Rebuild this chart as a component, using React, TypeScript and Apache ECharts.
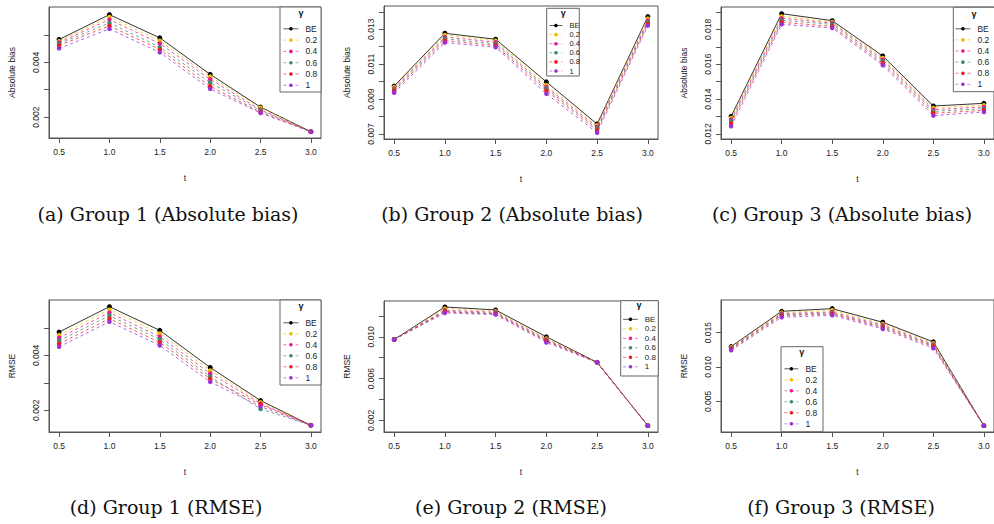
import React, { useEffect, useRef } from "react";
import * as echarts from "echarts";

const tValues = [0.5, 1.0, 1.5, 2.0, 2.5, 3.0];
const seriesNames = ["BE", "0.2", "0.4", "0.6", "0.8", "1"];
const seriesColors = ["#000000", "#EDBE00", "#E8198B", "#3B8C6E", "#F21B1B", "#9A30D6"];

// rows: BE, 0.2, 0.4, 0.6, 0.8, 1
const group1Bias = [
  [0.004836, 0.005745, 0.004897, 0.003564, 0.002364, 0.001467],
  [0.004776, 0.00566, 0.004788, 0.00348, 0.00234, 0.001467],
  [0.004727, 0.005564, 0.00469, 0.003382, 0.00227, 0.001467],
  [0.00468, 0.005442, 0.004558, 0.00326, 0.00224, 0.001467],
  [0.00462, 0.005333, 0.004473, 0.003127, 0.00218, 0.001467],
  [0.00451, 0.005224, 0.004364, 0.00303, 0.00215, 0.001467],
];
const group2Bias = [
  [0.009743, 0.012771, 0.012429, 0.00999, 0.007571, 0.013724],
  [0.009686, 0.012676, 0.012352, 0.0098, 0.007495, 0.01361],
  [0.00961, 0.012562, 0.012257, 0.009686, 0.0074, 0.013495],
  [0.009552, 0.012467, 0.012162, 0.00959, 0.007305, 0.0134],
  [0.009476, 0.012352, 0.012067, 0.009476, 0.00721, 0.013305],
  [0.009362, 0.012238, 0.011971, 0.009305, 0.007076, 0.01321],
];
const group3Bias = [
  [0.01301, 0.018899, 0.018497, 0.01647, 0.013602, 0.013755],
  [0.012914, 0.018746, 0.018421, 0.016356, 0.013488, 0.013641],
  [0.012818, 0.018631, 0.018363, 0.01626, 0.013392, 0.013545],
  [0.012723, 0.018516, 0.018287, 0.016164, 0.013296, 0.013449],
  [0.012589, 0.018402, 0.018172, 0.01605, 0.013182, 0.013354],
  [0.012436, 0.018287, 0.018076, 0.015935, 0.013048, 0.013258],
];
const group1Rmse = [
  [0.004854, 0.00578, 0.004915, 0.003561, 0.002354, 0.001451],
  [0.004744, 0.005671, 0.004805, 0.003451, 0.002293, 0.001451],
  [0.004646, 0.005561, 0.004683, 0.003341, 0.002244, 0.001451],
  [0.004537, 0.005451, 0.004585, 0.003232, 0.002049, 0.001451],
  [0.004427, 0.005341, 0.004476, 0.003146, 0.002207, 0.001451],
  [0.004317, 0.005232, 0.004366, 0.003037, 0.002134, 0.001451],
];
const group2Rmse = [
  [0.009746, 0.012857, 0.012571, 0.01, 0.007556, 0.001492],
  [0.009746, 0.0127, 0.012444, 0.009841, 0.007556, 0.001492],
  [0.009746, 0.01254, 0.01235, 0.009746, 0.007556, 0.001492],
  [0.009746, 0.01244, 0.012254, 0.00965, 0.007556, 0.001492],
  [0.009746, 0.01238, 0.01219, 0.009587, 0.007556, 0.001492],
  [0.009746, 0.012286, 0.012127, 0.00946, 0.007556, 0.001492],
];
const group3Rmse = [
  [0.012971, 0.018092, 0.018478, 0.016498, 0.013647, 0.001473],
  [0.012874, 0.017899, 0.018237, 0.016256, 0.013454, 0.001473],
  [0.012778, 0.017754, 0.017995, 0.016063, 0.013261, 0.001473],
  [0.012681, 0.017609, 0.01785, 0.01587, 0.013116, 0.001473],
  [0.012585, 0.017464, 0.017705, 0.015725, 0.012971, 0.001473],
  [0.01244, 0.017222, 0.017512, 0.015531, 0.01273, 0.001473],
];

const yTicks1Bias = [0.002, 0.003, 0.004, 0.005];
const yLabels1Bias = [0.002, 0.004];
const yTicks2Bias = [0.007, 0.008, 0.009, 0.01, 0.011, 0.012, 0.013, 0.014];
const yLabels2Bias = [0.007, 0.009, 0.011, 0.013];
const yTicks3Bias = [0.012, 0.013, 0.014, 0.015, 0.016, 0.017, 0.018, 0.019];
const yLabels3Bias = [0.012, 0.014, 0.016, 0.018];
const yTicks1Rmse = [0.002, 0.003, 0.004, 0.005];
const yLabels1Rmse = [0.002, 0.004];
const yTicks2Rmse = [0.002, 0.004, 0.006, 0.008, 0.01, 0.012];
const yLabels2Rmse = [0.002, 0.006, 0.01];
const yTicks3Rmse = [0.005, 0.01, 0.015];
const yLabels3Rmse = [0.005, 0.01, 0.015];

const captions = [
  "(a) Group 1 (Absolute bias)",
  "(b) Group 2 (Absolute bias)",
  "(c) Group 3 (Absolute bias)",
  "(d) Group 1 (RMSE)",
  "(e) Group 2 (RMSE)",
  "(f) Group 3 (RMSE)",
];

const panels = [
  {
    data: group1Bias, ticks: yTicks1Bias, labels: yLabels1Bias, yName: "Absolute bias",
    grid: { left: 49, top: 7, width: 272, height: 131 }, yMin: 0.001236, yMax: 0.006024,
    cap: [168, 214],
    leg: { left: 283, top: 24.3, iw: 15, fs: 8.5, gap: 2.3, box: [280, 7, 41, 85], g: [301, 13] },
  },
  {
    data: group2Bias, ticks: yTicks2Bias, labels: yLabels2Bias, yName: "Absolute bias",
    grid: { left: 384, top: 6, width: 274, height: 133 }, yMin: 0.006714, yMax: 0.014333,
    cap: [512, 214],
    leg: { left: 549, top: 21.5, iw: 13, fs: 7.5, gap: 1.1, box: [546.7, 8.3, 32.6, 67.7], g: [563.3, 13.3] },
  },
  {
    data: group3Bias, ticks: yTicks3Bias, labels: yLabels3Bias, yName: "Absolute bias",
    grid: { left: 721, top: 7, width: 273, height: 132 }, yMin: 0.011709, yMax: 0.019281,
    cap: [842, 214],
    leg: { left: 955, top: 24.3, iw: 15, fs: 8.5, gap: 2.1, box: [953.3, 7.3, 45, 84.4], g: [974, 14] },
  },
  {
    data: group1Rmse, ticks: yTicks1Rmse, labels: yLabels1Rmse, yName: "RMSE",
    grid: { left: 49, top: 300, width: 272, height: 132 }, yMin: 0.001207, yMax: 0.006024,
    cap: [166, 507],
    leg: { left: 283, top: 318.3, iw: 15, fs: 8.5, gap: 2, box: [280, 300, 41, 85], g: [301, 306] },
  },
  {
    data: group2Rmse, ticks: yTicks2Rmse, labels: yLabels2Rmse, yName: "RMSE",
    grid: { left: 384, top: 301, width: 274, height: 131 }, yMin: 0.000889, yMax: 0.013429,
    cap: [511, 507],
    leg: { left: 622.7, top: 315.3, iw: 14.7, fs: 8, gap: 1.5, box: [620.7, 300.7, 37.6, 75.3], g: [639, 305] },
  },
  {
    data: group3Rmse, ticks: yTicks3Rmse, labels: yLabels3Rmse, yName: "RMSE",
    grid: { left: 721, top: 300, width: 273, height: 132 }, yMin: 0.000556, yMax: 0.019734,
    cap: [841, 507],
    leg: { left: 784, top: 364.3, iw: 14, fs: 8.5, gap: 2, box: [781, 346.7, 42, 85], g: [801.7, 352.3] },
  },
];

const SANS = "'Liberation Sans', Arial, sans-serif";

export default function App() {
  const ref = useRef<HTMLDivElement>(null);
  useEffect(() => {
    if (!ref.current) return;
    const chart = echarts.init(ref.current, undefined, { renderer: "svg" });
    const grids: any[] = [];
    const xAxes: any[] = [];
    const yAxes: any[] = [];
    const series: any[] = [];
    const legends: any[] = [];
    const graphics: any[] = [];

    panels.forEach((p, i) => {
      grids.push({ ...p.grid, show: true, borderColor: "#555", borderWidth: 1, backgroundColor: "transparent" });
      xAxes.push({
        gridIndex: i, type: "value", min: 0.4, max: 3.1,
        name: "t", nameLocation: "middle", nameGap: 35,
        nameTextStyle: { fontFamily: SANS, fontSize: 8.5, color: "#222" },
        axisLine: { show: true, lineStyle: { color: "#555" } },
        axisTick: { show: true, customValues: tValues, length: 5, lineStyle: { color: "#555" } },
        axisLabel: { customValues: tValues, formatter: (v: number) => v.toFixed(1), fontFamily: SANS, fontSize: 8.5, color: "#222", margin: 9 },
        splitLine: { show: false },
      });
      yAxes.push({
        gridIndex: i, type: "value", min: p.yMin, max: p.yMax,
        name: p.yName, nameLocation: "middle", nameGap: 33,
        nameTextStyle: { fontFamily: SANS, fontSize: 8.5, color: "#222" },
        axisLine: { show: true, lineStyle: { color: "#555" } },
        axisTick: { show: true, customValues: p.ticks, length: 5, lineStyle: { color: "#555" } },
        axisLabel: { customValues: p.labels, rotate: 90, formatter: (v: number) => v.toFixed(3), fontFamily: SANS, fontSize: 8.5, color: "#222", margin: 9 },
        splitLine: { show: false },
      });
      p.data.forEach((row, k) => {
        series.push({
          type: "line", name: seriesNames[k], xAxisIndex: i, yAxisIndex: i,
          data: row.map((v, j) => [tValues[j], v]),
          symbol: "circle", symbolSize: k === 0 ? 5 : 4.5,
          itemStyle: { color: seriesColors[k] },
          lineStyle: k === 0
            ? { color: "#333", width: 1, type: "solid" }
            : { color: seriesColors[k], width: 1, type: [3, 3], opacity: 0.75 },
          z: 2 + k * 0.01,
        });
      });
      const L = p.leg;
      legends.push({
        data: seriesNames, orient: "vertical", left: L.left, top: L.top, padding: 0,
        itemWidth: L.iw, itemHeight: 4.5, itemGap: L.gap + (L.fs - 4.5 > 0 ? 0 : 0), z: 6,
        textStyle: { fontFamily: SANS, fontSize: L.fs, color: "#222", lineHeight: L.fs, padding: [0, 0, 0, 2] },
        lineStyle: { width: 0.8 },
        selectedMode: false,
      });
      graphics.push({
        type: "rect", z: 5,
        shape: { x: L.box[0], y: L.box[1], width: L.box[2], height: L.box[3] },
        style: { fill: "#fff", stroke: "#666", lineWidth: 1 },
      });
      graphics.push({
        type: "text", z: 6, x: L.g[0], y: L.g[1],
        style: { text: "γ", fontFamily: SANS, fontSize: 9, fontWeight: "bold", fill: "#111", align: "center", verticalAlign: "middle" },
      });
      graphics.push({
        type: "text", z: 6, x: p.cap[0], y: p.cap[1],
        style: { text: captions[i], fontFamily: "'DejaVu Serif', serif", fontSize: 19, fill: "#111", align: "center", verticalAlign: "middle" },
      });
    });

    chart.setOption({
      animation: false,
      backgroundColor: "#fff",
      grid: grids,
      xAxis: xAxes,
      yAxis: yAxes,
      series,
      legend: legends,
      graphic: graphics,
    });
    return () => chart.dispose();
  }, []);
  return <div ref={ref} style={{ position: "fixed", left: 0, top: 0, width: 994, height: 524 }} />;
}
